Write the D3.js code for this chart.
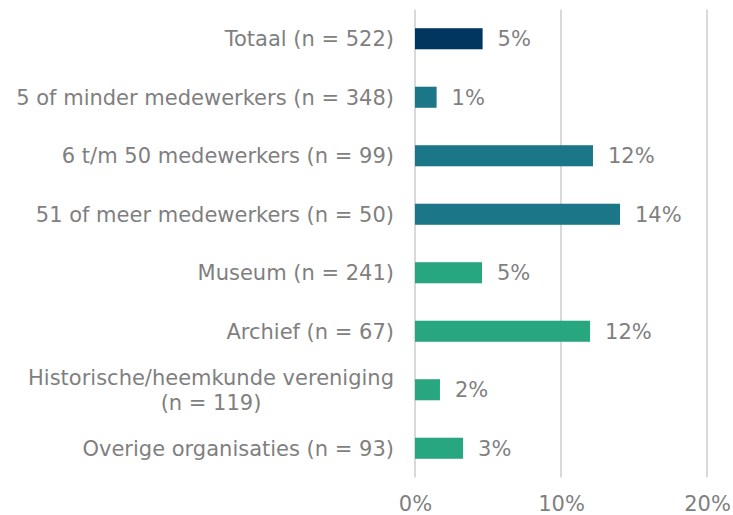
<!DOCTYPE html>
<html>
<head>
<meta charset="utf-8">
<script src="https://cdn.jsdelivr.net/npm/d3@7"></script>
<style>
  body { margin: 0; background: #fff; }
  svg { display: block; font-family: "DejaVu Sans", Verdana, sans-serif; }
</style>
</head>
<body>
<svg id="chart" width="733" height="515"></svg>
<script>
const categories = [
  ["Totaal (n = 522)"],
  ["5 of minder medewerkers (n = 348)"],
  ["6 t/m 50 medewerkers (n = 99)"],
  ["51 of meer medewerkers (n = 50)"],
  ["Museum (n = 241)"],
  ["Archief (n = 67)"],
  ["Historische/heemkunde vereniging", "(n = 119)"],
  ["Overige organisaties (n = 93)"]
];
const values = [4.63, 1.48, 12.19, 14.04, 4.59, 11.99, 1.71, 3.29];
const valueLabels = ["5%", "1%", "12%", "14%", "5%", "12%", "2%", "3%"];
const groups = ["total", "size", "size", "size", "type", "type", "type", "type"];
const tickValues = [0, 10, 20];
const tickLabels = ["0%", "10%", "20%"];

const colors = { total: "#00365f", size: "#1b7787", type: "#28a67f" };
const textColor = "#7f7f7f";
const gridColor = "#d9d9d9";
const fs = 21;

const svg = d3.select("#chart");
const mLeft = 415, mRight = 707, mTop = 9.5, mBottom = 477.5;

const x = d3.scaleLinear().domain([0, 20]).range([mLeft, mRight]);
const y = d3.scaleBand().domain(d3.range(categories.length)).range([mTop, mBottom]).paddingInner(0.64).paddingOuter(0.32);

// gridlines
svg.append("g").selectAll("line").data(tickValues).join("line")
  .attr("x1", d => x(d)).attr("x2", d => x(d))
  .attr("y1", mTop).attr("y2", mBottom)
  .attr("stroke", gridColor).attr("stroke-width", 2);

// x axis labels
const xAxis = d3.axisBottom(x).tickValues(tickValues).tickFormat((d, i) => tickLabels[i]).tickSize(0).tickPadding(0);
const gx = svg.append("g").attr("transform", `translate(0, 511)`).call(xAxis);
gx.select(".domain").remove();
gx.selectAll("text").attr("fill", textColor).attr("font-size", fs).attr("dy", "0")
  .style("font-family", '"DejaVu Sans", Verdana, sans-serif');

// bars
svg.append("g").selectAll("rect").data(values).join("rect")
  .attr("x", x(0)).attr("y", (d, i) => y(i))
  .attr("width", d => x(d) - x(0)).attr("height", y.bandwidth())
  .attr("fill", (d, i) => colors[groups[i]]);

// value labels
svg.append("g").selectAll("text").data(values).join("text")
  .attr("x", d => x(d) + 15).attr("y", (d, i) => y(i) + y.bandwidth() / 2)
  .attr("dy", "0.36em").attr("font-size", fs).attr("fill", textColor)
  .text((d, i) => valueLabels[i]);

// category labels
const catG = svg.append("g");
categories.forEach((lines, i) => {
  const cy = y(i) + y.bandwidth() / 2;
  const lh = 25;
  const t = catG.append("text").attr("font-size", fs).attr("fill", textColor);
  if (lines.length === 1) {
    t.attr("x", 394).attr("y", cy).attr("dy", "0.36em").attr("text-anchor", "end").text(lines[0]);
  } else {
    const widths = lines.map(l => {
      const s = catG.append("text").attr("font-size", fs).text(l);
      const w = s.node().getComputedTextLength(); s.remove(); return w;
    });
    const maxW = d3.max(widths);
    const cx = 394 - maxW / 2;
    lines.forEach((l, k) => {
      t.append("tspan").attr("x", cx).attr("text-anchor", "middle")
        .attr("y", cy + (k - (lines.length - 1) / 2) * lh).attr("dy", "0.36em").text(l);
    });
  }
});
</script>
</body>
</html>
